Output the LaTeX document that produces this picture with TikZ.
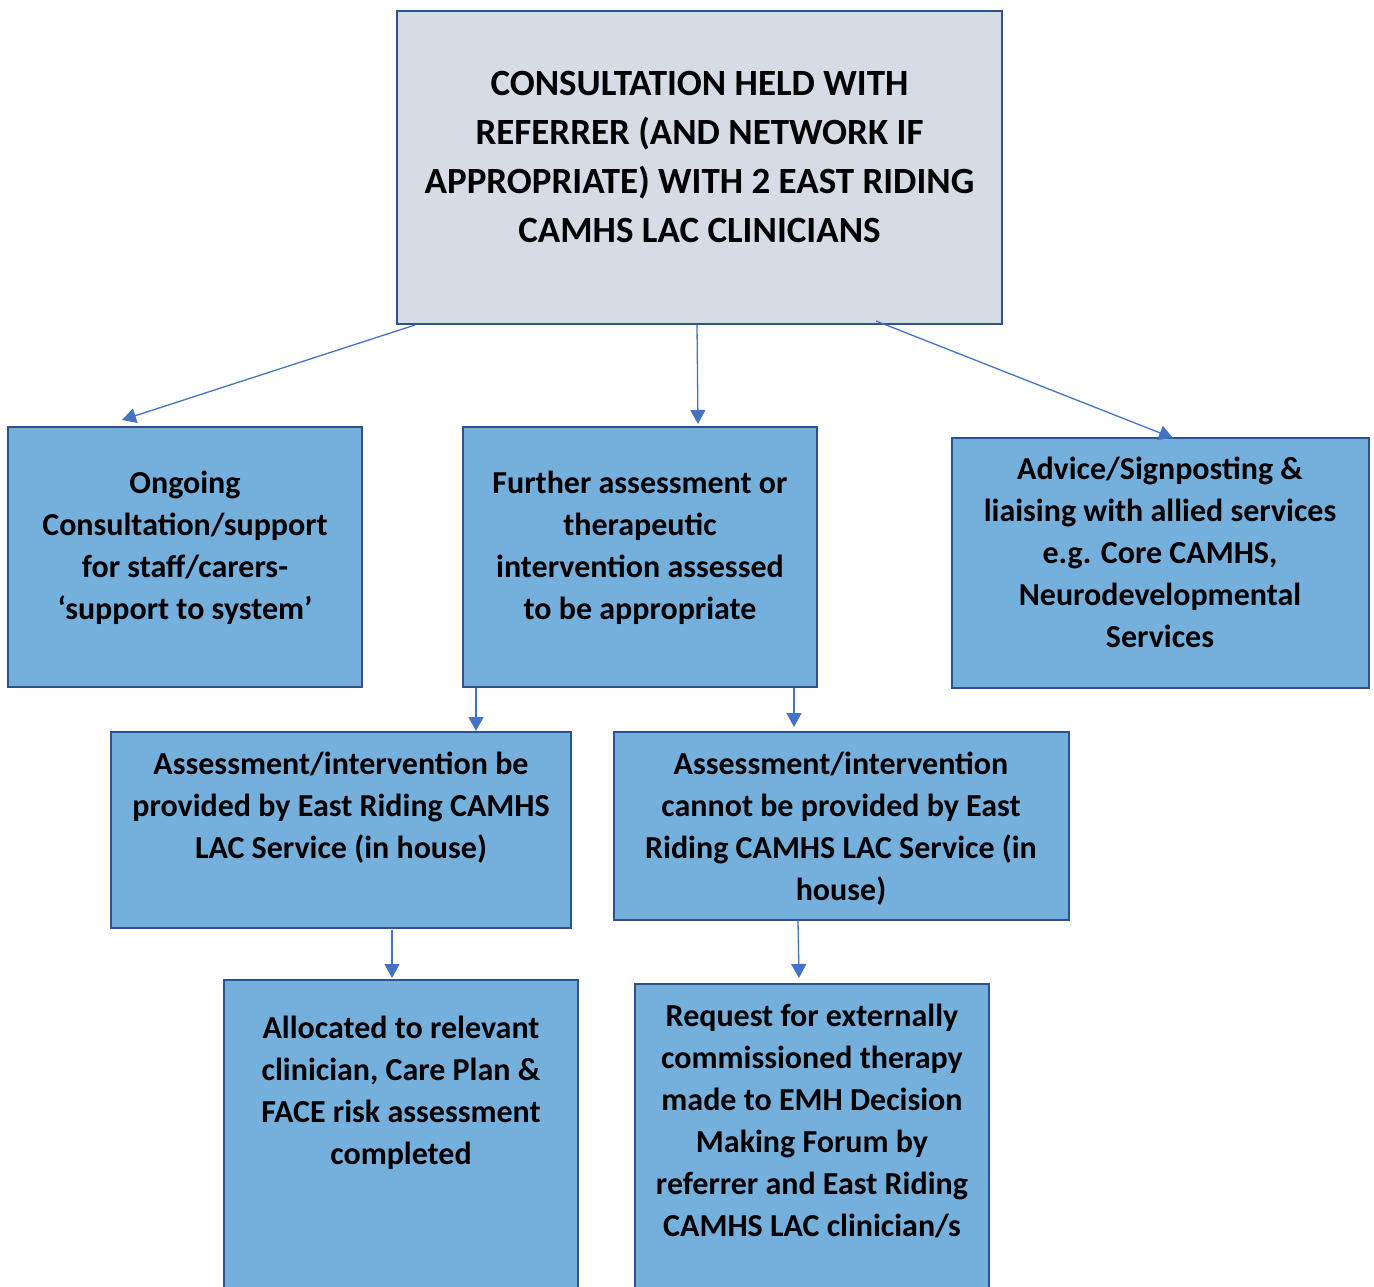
\documentclass[tikz,border=0pt]{standalone}
\usepackage{fontspec}
\setmainfont{Carlito}
\usetikzlibrary{arrows.meta}
\definecolor{boxfill}{HTML}{75AFDC}
\definecolor{topfill}{HTML}{D6DCE5}
\definecolor{boxline}{HTML}{2F528F}
\definecolor{arrowc}{HTML}{4472C4}
\tikzset{
  box/.style={draw=boxline, line width=2.5pt, fill=boxfill, inner sep=0pt, outer sep=0pt},
  topbox/.style={box, fill=topfill},
  txt/.style={anchor=north, align=center, inner sep=0pt, font=\fontsize{32}{42}\selectfont\bfseries},
  toptxt/.style={anchor=north, align=center, inner sep=0pt, font=\fontsize{37}{49}\selectfont\bfseries},
  conn/.style={draw=arrowc, line width=1.3pt, -{Triangle[width=15pt,length=14pt]}, shorten >=0pt}
}
\begin{document}
\begin{tikzpicture}[x=1pt,y=-1pt]
\useasboundingbox (0,0) rectangle (1374,1286);
\fill[white] (0,0) rectangle (1374,1286);
% boxes
\node[topbox, minimum width=605, minimum height=313] (top) at (699.5,167.5) {};
\node[box, minimum width=354, minimum height=260] (a) at (185,557) {};
\node[box, minimum width=354, minimum height=260] (b) at (640,557) {};
\node[box, minimum width=417, minimum height=250] (c) at (1160.5,563) {};
\node[box, minimum width=460, minimum height=196] (d) at (341,830) {};
\node[box, minimum width=455, minimum height=188] (e) at (841.5,826) {};
\node[box, minimum width=354, minimum height=330] (f) at (401,1145) {};
\node[box, minimum width=354, minimum height=326] (g) at (812,1147) {};
% texts
\node[toptxt] (toptext) at (699.5,60.6) {\strut CONSULTATION HELD WITH\\REFERRER (AND NETWORK IF\\APPROPRIATE) WITH 2 EAST RIDING\\CAMHS LAC CLINICIANS};
\node[txt] (atext) at (185,463.9) {\strut Ongoing\\Consultation/support\\for staff/carers-\\‘support to system’};
\node[txt] (btext) at (640,463.9) {\strut Further assessment or\\therapeutic\\intervention assessed\\to be appropriate};
\node[txt] (ctext) at (1160,449.9) {\strut Advice/Signposting \&\\liaising with allied services\\e.g. Core CAMHS,\\Neurodevelopmental\\Services};
\node[txt] (dtext) at (341,744.9) {\strut Assessment/intervention be\\provided by East Riding CAMHS\\LAC Service (in house)};
\node[txt] (etext) at (841,744.9) {\strut Assessment/intervention\\cannot be provided by East\\Riding CAMHS LAC Service (in\\house)};
\node[txt] (ftext) at (401,1008.9) {\strut Allocated to relevant\\clinician, Care Plan \&\\FACE risk assessment\\completed};
\node[txt] (gtext) at (812,996.9) {\strut Request for externally\\commissioned therapy\\made to EMH Decision\\Making Forum by\\referrer and East Riding\\CAMHS LAC clinician/s};
% connector end points
\coordinate (s1) at (415,325);
\coordinate (t1) at (122,420);
\coordinate (s2) at (697,325);
\coordinate (t2) at (698,424);
\coordinate (s3) at (876,321);
\coordinate (t3) at (1173,438);
\coordinate (s4) at (476,688);
\coordinate (t4) at (476,731);
\coordinate (s5) at (794,688);
\coordinate (t5) at (794,727);
\coordinate (s6) at (392,930);
\coordinate (t6) at (392,978);
\coordinate (s7) at (798,921);
\coordinate (t7) at (799,978);
\draw[conn] (s1) -- (t1);
\draw[conn] (s2) -- (t2);
\draw[conn] (s3) -- (t3);
\draw[conn] (s4) -- (t4);
\draw[conn] (s5) -- (t5);
\draw[conn] (s6) -- (t6);
\draw[conn] (s7) -- (t7);
\end{tikzpicture}
\end{document}
